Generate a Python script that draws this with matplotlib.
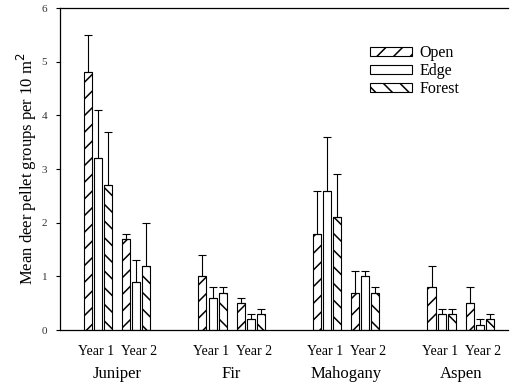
import matplotlib
matplotlib.use("Agg")
import matplotlib.pyplot as plt
import numpy as np
from matplotlib.patches import Patch
from matplotlib.transforms import blended_transform_factory

SITES = ["Juniper", "Fir", "Mahogany", "Aspen"]
YEARS = ["Year 1", "Year 2"]
HABITATS = ["Open", "Edge", "Forest"]

# means per habitat, ordered site by site, Year 1 then Year 2
OPEN = [4.8, 1.7, 1.0, 0.5, 1.8, 0.7, 0.8, 0.5]
EDGE = [3.2, 0.9, 0.6, 0.2, 2.6, 1.0, 0.3, 0.1]
FOREST = [2.7, 1.2, 0.7, 0.3, 2.1, 0.7, 0.3, 0.2]
# upper error (SE)
OPEN_ERR = [0.7, 0.1, 0.4, 0.1, 0.8, 0.4, 0.4, 0.3]
EDGE_ERR = [0.9, 0.4, 0.2, 0.1, 1.0, 0.1, 0.1, 0.1]
FOREST_ERR = [1.0, 0.8, 0.1, 0.1, 0.8, 0.1, 0.1, 0.1]

HATCHES = ["//", None, "\\\\"]

plt.rcParams["font.family"] = ["Liberation Serif", "DejaVu Serif"]
plt.rcParams["hatch.linewidth"] = 1.1


def main():
    fig = plt.figure(figsize=(5.11, 3.83), dpi=100)
    ax = fig.add_axes([0.117, 0.138, 0.878, 0.841])

    centers = np.array([s * 3 + y for s in range(len(SITES)) for y in range(len(YEARS))],
                       dtype=float)
    width = 0.21
    step = 0.265
    series = [(OPEN, OPEN_ERR), (EDGE, EDGE_ERR), (FOREST, FOREST_ERR)]
    for k, ((vals, errs), hatch) in enumerate(zip(series, HATCHES)):
        xs = centers + (k - 1) * step
        ax.bar(xs, vals, width=width, color="white", edgecolor="black",
               hatch=hatch, linewidth=0.8)
        ax.errorbar(xs, vals, yerr=[np.zeros(len(vals)), errs], fmt="none",
                    ecolor="black", elinewidth=0.8, capsize=3, capthick=0.8)

    ax.set_xlim(-1.0, 10.75)
    ax.set_ylim(0, 6)
    ax.set_yticks(range(7))
    ax.tick_params(axis="y", labelsize=8, direction="out", length=3, width=0.8,
                   pad=6, labelcolor="#333")
    # year labels sit slightly apart from the bar-group centres
    offsets = np.tile([-0.05, 0.08], len(SITES))
    ax.set_xticks(centers + offsets)
    ax.set_xticklabels(YEARS * len(SITES), fontsize=10)
    ax.tick_params(axis="x", length=0, pad=11)
    ax.spines["right"].set_visible(False)
    for sp in ["left", "bottom", "top"]:
        ax.spines[sp].set_linewidth(0.9)

    trans = blended_transform_factory(ax.transData, ax.transAxes)
    for s, name in enumerate(SITES):
        ax.text(s * 3 + 0.5, -0.135, name, transform=trans, ha="center",
                va="center", fontsize=12)

    ax.set_ylabel("Mean deer pellet groups per 10 m$^2$", fontsize=12, labelpad=2)

    handles = [Patch(facecolor="white", edgecolor="black", hatch=h, linewidth=0.8,
                     label=lab) for h, lab in zip(HATCHES, HABITATS)]
    ax.legend(handles=handles, loc="upper left", bbox_to_anchor=(0.66, 0.93),
              frameon=False, fontsize=11.5, handlelength=2.6, handleheight=0.5,
              labelspacing=0.12, handletextpad=0.5)

    fig.savefig("out.png", dpi=100)


if __name__ == "__main__":
    main()
